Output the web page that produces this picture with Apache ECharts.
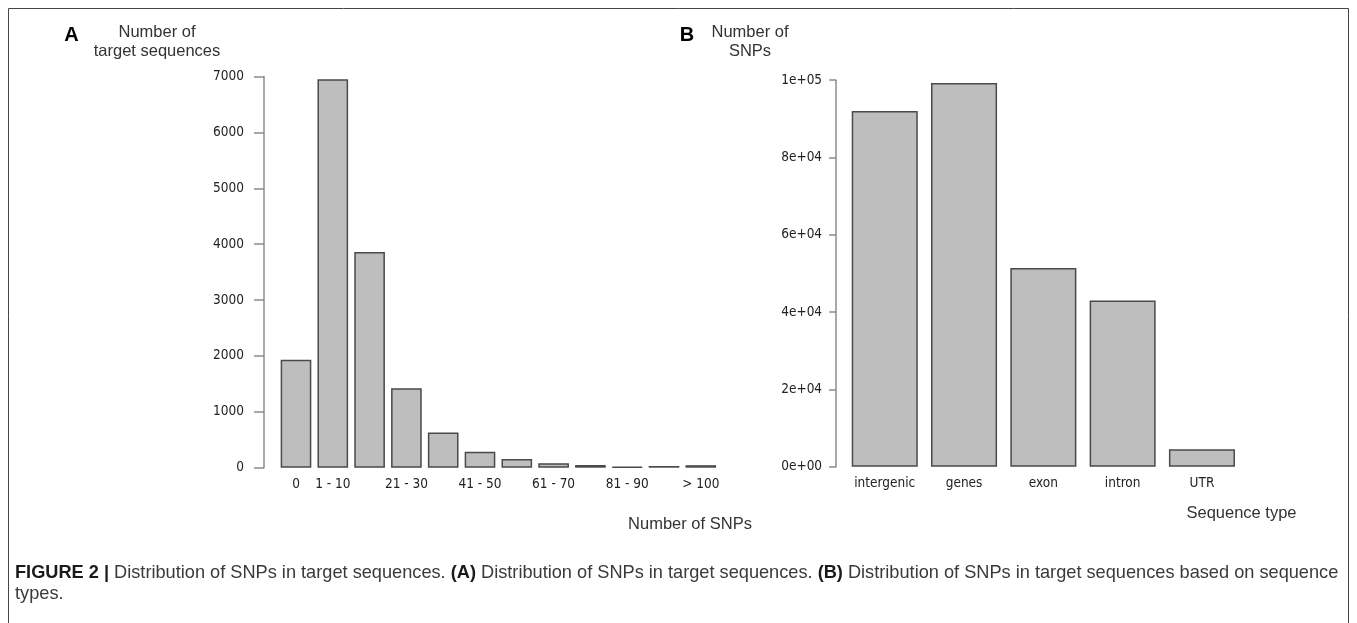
<!DOCTYPE html>
<html>
<head>
<meta charset="utf-8">
<script src="https://cdn.jsdelivr.net/npm/echarts@6/dist/echarts.min.js"></script>
<style>
html,body{margin:0;padding:0;background:#fff;}
#c{width:1357px;height:623px;}
</style>
</head>
<body>
<div id="c"></div>
<script>
// Panel A: number of target sequences by number of SNPs
const categoriesA = ["0", "1 - 10", "11 - 20", "21 - 30", "31 - 40", "41 - 50", "51 - 60", "61 - 70", "71 - 80", "81 - 90", "91 - 100", "> 100"];
const valuesA = [1930, 6950, 3860, 1420, 630, 286, 155, 80, 48, 12, 30, 45];
const ticksA = [0, 1000, 2000, 3000, 4000, 5000, 6000, 7000];

// Panel B: number of SNPs by sequence type
const categoriesB = ["intergenic", "genes", "exon", "intron", "UTR"];
const valuesB = [92000, 99300, 51400, 43000, 4500];
const ticksB = [0, 20000, 40000, 60000, 80000, 100000];

const narrow = '"Liberation Sans Narrow", "Arial Narrow", "DejaVu Sans Condensed", sans-serif';
const sans = '"Liberation Sans", Arial, Helvetica, sans-serif';

function sci(v) {
  if (v === 0) return '0e+00';
  const e = Math.floor(Math.log10(v) + 1e-9);
  const m = Math.round(v / Math.pow(10, e));
  return m + 'e+' + (e < 10 ? '0' + e : e);
}

const chart = echarts.init(document.getElementById('c'), null, {renderer: 'canvas'});

const barStyle = {color: '#bebebe', borderColor: '#4a4a4a', borderWidth: 1.5};
const axisGray = '#8c8c8c';

chart.setOption({
  animation: false,
  backgroundColor: '#fff',
  grid: [
    {left: 277.6, top: 76.5, width: 441.6, height: 391.2},
    {left: 845.1, top: 80.2, width: 396.5, height: 386.5}
  ],
  xAxis: [
    {
      type: 'category', gridIndex: 0, data: categoriesA,
      axisLine: {show: false}, axisTick: {show: false},
      axisLabel: {
        interval: function (i) { return i === 0 || i % 2 === 1; },
        margin: 10, color: '#222', fontFamily: narrow, fontSize: 13.5
      }
    },
    {
      type: 'category', gridIndex: 1, data: categoriesB,
      axisLine: {show: false}, axisTick: {show: false},
      axisLabel: {interval: 0, margin: 10, color: '#222', fontFamily: narrow, fontSize: 13.5}
    }
  ],
  yAxis: [
    {
      type: 'value', gridIndex: 0,
      min: ticksA[0], max: ticksA[ticksA.length - 1], interval: ticksA[1] - ticksA[0],
      offset: 13.6,
      axisLine: {show: true, lineStyle: {color: axisGray, width: 1.5}},
      axisTick: {show: true, length: 10, lineStyle: {color: axisGray, width: 1.5}},
      splitLine: {show: false},
      axisLabel: {margin: 20, color: '#222', fontFamily: narrow, fontSize: 13.5, formatter: function (v) { return String(v); }}
    },
    {
      type: 'value', gridIndex: 1,
      min: ticksB[0], max: ticksB[ticksB.length - 1], interval: ticksB[1] - ticksB[0],
      offset: 9,
      axisLine: {show: true, lineStyle: {color: axisGray, width: 1.5}},
      axisTick: {show: true, length: 7, lineStyle: {color: axisGray, width: 1.5}},
      splitLine: {show: false},
      axisLabel: {margin: 14, color: '#222', fontFamily: narrow, fontSize: 13.5, formatter: sci}
    }
  ],
  series: [
    {type: 'bar', xAxisIndex: 0, yAxisIndex: 0, data: valuesA, barCategoryGap: '16.7%', itemStyle: barStyle},
    {type: 'bar', xAxisIndex: 1, yAxisIndex: 1, data: valuesB, barCategoryGap: '16.7%', itemStyle: barStyle}
  ],
  graphic: [
    {type: 'rect', shape: {x: 8.5, y: 8.5, width: 1340, height: 700}, style: {fill: null, stroke: '#444', lineWidth: 1}, silent: true},
    {type: 'text', x: 71.5, y: 35.5, style: {text: 'A', font: 'bold 20px ' + sans, fill: '#000', textAlign: 'center', textVerticalAlign: 'middle'}},
    {type: 'text', x: 157, y: 42, style: {text: 'Number of\ntarget sequences', font: '16.5px ' + sans, lineHeight: 19, fill: '#333', textAlign: 'center', textVerticalAlign: 'middle'}},
    {type: 'text', x: 687, y: 35.5, style: {text: 'B', font: 'bold 20px ' + sans, fill: '#000', textAlign: 'center', textVerticalAlign: 'middle'}},
    {type: 'text', x: 750, y: 42, style: {text: 'Number of\nSNPs', font: '16.5px ' + sans, lineHeight: 19, fill: '#333', textAlign: 'center', textVerticalAlign: 'middle'}},
    {type: 'text', x: 690, y: 524.5, style: {text: 'Number of SNPs', font: '16.5px ' + sans, fill: '#333', textAlign: 'center', textVerticalAlign: 'middle'}},
    {type: 'text', x: 1241.5, y: 513.5, style: {text: 'Sequence type', font: '16.5px ' + sans, fill: '#333', textAlign: 'center', textVerticalAlign: 'middle'}},
    {type: 'text', x: 15, y: 573, style: {
      text: '{b|FIGURE 2 |} Distribution of SNPs in target sequences. {b|(A)} Distribution of SNPs in target sequences. {b|(B)} Distribution of SNPs in target sequences based on sequence',
      font: '18.2px ' + sans, fill: '#3a3a3a', textAlign: 'left', textVerticalAlign: 'middle',
      rich: {b: {fontWeight: 'bold', fontFamily: sans, fontSize: 18.2, fill: '#1a1a1a'}}
    }},
    {type: 'text', x: 15, y: 594, style: {text: 'types.', font: '18.2px ' + sans, fill: '#3a3a3a', textAlign: 'left', textVerticalAlign: 'middle'}}
  ]
});
</script>
</body>
</html>
